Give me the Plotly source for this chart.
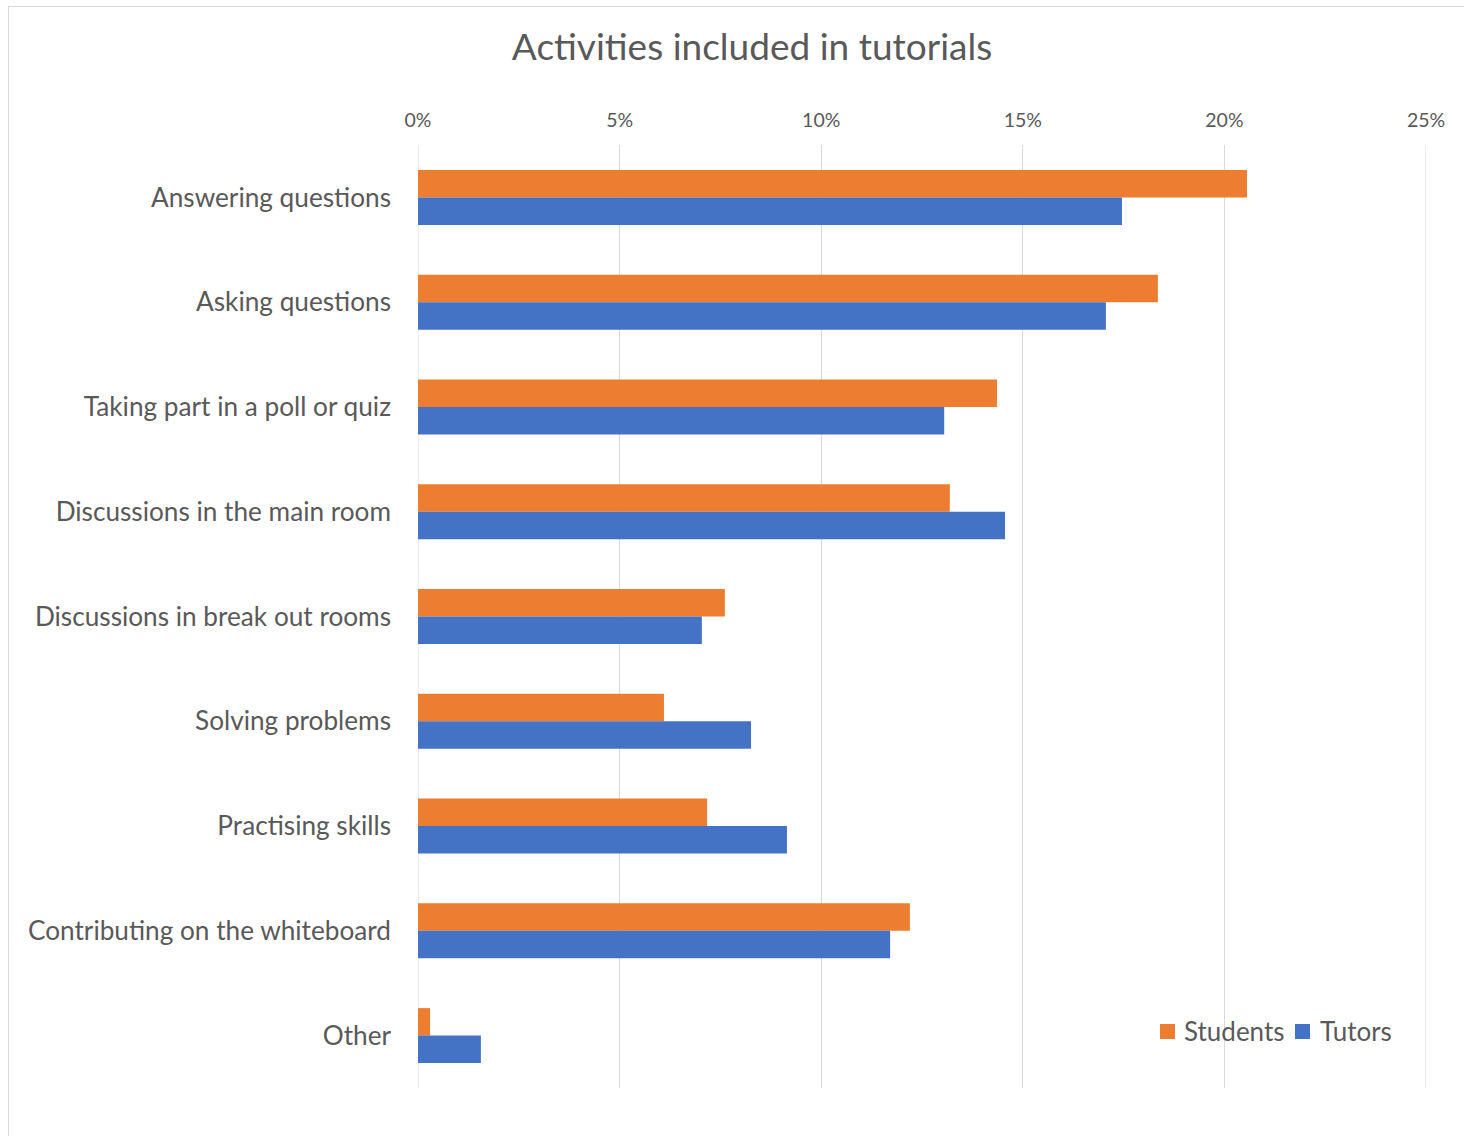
import plotly.graph_objects as go

categories = ["Answering questions", "Asking questions", "Taking part in a poll or quiz",
              "Discussions in the main room", "Discussions in break out rooms",
              "Solving problems", "Practising skills", "Contributing on the whiteboard", "Other"]
students = [0.2056, 0.1835, 0.1436, 0.1319, 0.0761, 0.0610, 0.0717, 0.1220, 0.0030]
tutors = [0.1746, 0.1706, 0.1305, 0.1456, 0.0704, 0.0826, 0.0915, 0.1171, 0.0156]
x_ticks = [0, 0.05, 0.10, 0.15, 0.20, 0.25]
x_tick_labels = ["0%", "5%", "10%", "15%", "20%", "25%"]
series_names = ["Students", "Tutors"]
series_colors = ["#ED7D31", "#4472C4"]

W, H = 1464, 1136
L, R, T, B = 418, 1426, 145, 1088

def px_x(p):
    return (p - L) / (R - L)

def px_y(p):
    return (B - p) / (B - T)

fig = go.Figure()
# edge gridlines (0% and 25%), drawn below the bars
for xv in (x_ticks[0], x_ticks[-1]):
    fig.add_shape(type="line", xref="x", yref="paper", x0=xv, x1=xv, y0=0, y1=1,
                  line=dict(color="#d9d9d9", width=1), layer="below")

for name, vals, col in zip(series_names, [students, tutors], series_colors):
    fig.add_trace(go.Bar(name=name, y=categories, x=vals, orientation="h",
                         marker=dict(color=col, line=dict(width=0)), showlegend=False))

font_family = "Lato, 'Open Sans', sans-serif"
fig.update_layout(
    width=W, height=H,
    margin=dict(l=L, r=W - R, t=T, b=H - B, pad=0),
    paper_bgcolor="white", plot_bgcolor="white",
    barmode="group", bargap=0.475, bargroupgap=0,
    font=dict(family=font_family, color="#595959"),
    title=dict(text="Activities included in tutorials", x=752 / W, xanchor="center",
               y=1 - 47 / H, yanchor="middle", font=dict(size=37, color="#595959")),
    xaxis=dict(side="top", range=[0, 0.25], tickvals=x_ticks, ticktext=x_tick_labels,
               showgrid=True, gridcolor="#d9d9d9", gridwidth=1, zeroline=False,
               showline=False, ticks="", tickfont=dict(size=19.5, color="#595959"),
               ticklabelstandoff=13, fixedrange=True),
    yaxis=dict(autorange="reversed", showgrid=False, zeroline=False, showline=False,
               ticks="", tickfont=dict(size=26.2, color="#595959"), ticklabelstandoff=26),
    showlegend=False,
)

# manual legend
legend_items = [(1160, 1182), (1295, 1318)]
for (sx, tx), name, col in zip(legend_items, series_names, series_colors):
    fig.add_shape(type="rect", xref="paper", yref="paper",
                  x0=px_x(sx), x1=px_x(sx + 15), y0=px_y(1039), y1=px_y(1024),
                  fillcolor=col, line=dict(width=0))
    fig.add_annotation(text=name, xref="paper", yref="paper", x=px_x(tx), y=px_y(1031),
                       xanchor="left", yanchor="middle", showarrow=False,
                       font=dict(size=26, color="#595959", family=font_family))

fig.add_shape(type="line", xref="paper", yref="paper", x0=px_x(8.5), x1=px_x(8.5),
              y0=px_y(6), y1=px_y(1140), line=dict(color="#d9d9d9", width=1))
fig.add_shape(type="line", xref="paper", yref="paper", x0=px_x(8), x1=px_x(1470),
              y0=px_y(6.5), y1=px_y(6.5), line=dict(color="#d9d9d9", width=1))

fig.write_html("out.html")
